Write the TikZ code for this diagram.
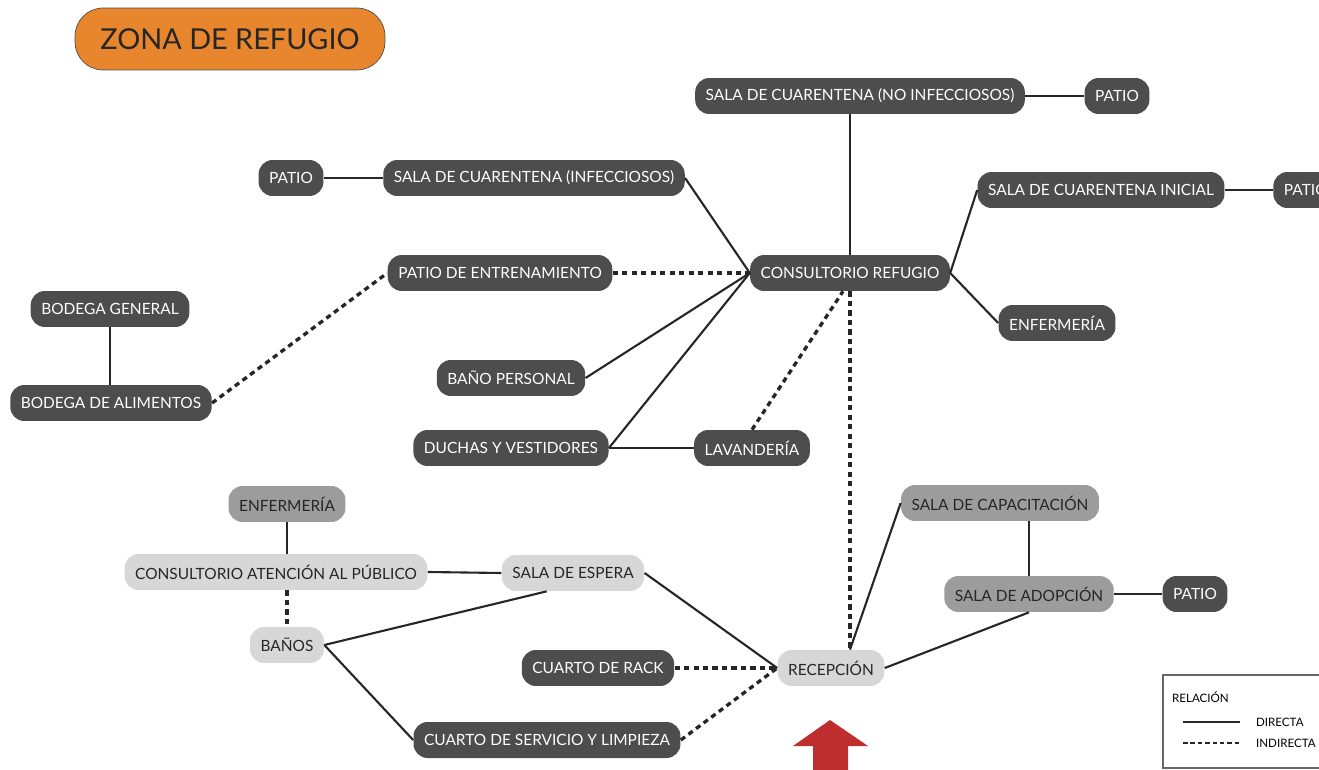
\documentclass[tikz,border=0pt]{standalone}
\usepackage{fontspec}
\setmainfont{Lato}
\definecolor{oscuro}{HTML}{4D4D4D}
\definecolor{medio}{HTML}{9C9C9C}
\definecolor{claro}{HTML}{D7D7D7}
\definecolor{naranja}{HTML}{E8862E}
\definecolor{rojo}{HTML}{BE2E2E}
\begin{document}
\begin{tikzpicture}[x=0.02cm,y=-0.02cm,
	every node/.style={font=\fontsize{8.8pt}{10pt}\selectfont},
	zona/.style={rounded corners=8pt,minimum height=0.72cm,inner xsep=6pt,inner ysep=2pt},
	zoscura/.style={zona,fill=oscuro,text=white},
	zmedia/.style={zona,fill=medio,text=black!85},
	zclara/.style={zona,fill=claro,text=black!85},
	directa/.style={line width=1.2pt,black!85},
	indirecta/.style={line width=1.9pt,black!85,dash pattern=on 3pt off 2.4pt},
	leyenda/.style={anchor=west,inner xsep=1pt,font=\fontsize{6.6pt}{8pt}\selectfont}]
	\clip (0,0) rectangle (1319,770);
	\useasboundingbox (0,0) rectangle (1319,770);

	% titulo
	\node[draw=black!70,fill=naranja,rounded corners=16pt,minimum width=6.2cm,minimum height=1.24cm,
		font=\fontsize{16.4pt}{19pt}\selectfont,text=black!85] (titulo) at (230,39) {ZONA DE REFUGIO};

	% zona de cuarentena
	\node[zoscura] (salaNoInf) at (860,96) {SALA DE CUARENTENA (NO INFECCIOSOS)};
	\node[zoscura] (patioB) at (1117,96) {PATIO};
	\node[zoscura] (salaInf) at (534,178) {SALA DE CUARENTENA (INFECCIOSOS)};
	\node[zoscura] (patioA) at (291,178) {PATIO};
	\node[zoscura] (salaIni) at (1101,190) {SALA DE CUARENTENA INICIAL};
	\node[zoscura,anchor=west] (patioC) at (1273,190) {PATIO};
	\node[zoscura] (cons) at (850,273) {CONSULTORIO REFUGIO};
	\node[zoscura] (patioEnt) at (500,273) {PATIO DE ENTRENAMIENTO};
	\node[zoscura] (enfA) at (1057,323) {ENFERMERÍA};
	\node[zoscura] (bodGen) at (110,309) {BODEGA GENERAL};
	\node[zoscura] (bodAli) at (111,403) {BODEGA DE ALIMENTOS};
	\node[zoscura] (banoPer) at (511,378) {BAÑO PERSONAL};
	\node[zoscura] (duchas) at (511,448) {DUCHAS Y VESTIDORES};
	\node[zoscura] (lav) at (752,448) {LAVANDERÍA};

	% zona publica
	\node[zmedia] (enfB) at (287,504) {ENFERMERÍA};
	\node[zclara] (consAt) at (276,572) {CONSULTORIO ATENCIÓN AL PÚBLICO};
	\node[zclara] (espera) at (573,573) {SALA DE ESPERA};
	\node[zclara] (banos) at (287,645) {BAÑOS};
	\node[zmedia] (capac) at (1000,503) {SALA DE CAPACITACIÓN};
	\node[zmedia] (adop) at (1029,594) {SALA DE ADOPCIÓN};
	\node[zoscura] (patioD) at (1195,594) {PATIO};
	\node[zoscura] (rack) at (598,668) {CUARTO DE RACK};
	\node[zclara] (recep) at (831,668) {RECEPCIÓN};
	\node[zoscura] (servicio) at (547,740) {CUARTO DE SERVICIO Y LIMPIEZA};

	% relaciones directas
	\draw[directa] (salaNoInf.east) -- (patioB.west);
	\draw[directa] (cons.north |- salaNoInf.south) -- (cons.north);
	\draw[directa] (patioA.east) -- (salaInf.west);
	\draw[directa] (salaInf.east) -- (cons.west);
	\draw[directa] (cons.east) -- (salaIni.west);
	\draw[directa] (salaIni.east) -- (patioC.west);
	\draw[directa] (cons.east) -- (enfA.west);
	\draw[directa] (bodGen.south) -- (bodGen.south |- bodAli.north);
	\draw[directa] (banoPer.east) -- (cons.west);
	\draw[directa] (duchas.east) -- (cons.west);
	\draw[directa] (duchas.east) -- (lav.west);
	\draw[directa] (enfB.south) -- (enfB.south |- consAt.north);
	\draw[directa] (consAt.east) -- (espera.west);
	\draw[directa] (banos.east) -- ([xshift=-15pt]espera.south);
	\draw[directa] (banos.east) -- (servicio.west);
	\draw[directa] (espera.east) -- (recep.west);
	\draw[directa] (cons.south |- recep.north) -- (capac.west);
	\draw[directa] (recep.east) -- (adop.south);
	\draw[directa] (adop.north |- capac.south) -- (adop.north);
	\draw[directa] (adop.east) -- (patioD.west);

	% relaciones indirectas
	\draw[indirecta] (patioEnt.east) -- (cons.west);
	\draw[indirecta] (bodAli.east) -- (patioEnt.west);
	\draw[indirecta] (lav.north) -- ([xshift=-4pt]cons.south);
	\draw[indirecta] (cons.south) -- (cons.south |- recep.north);
	\draw[indirecta] (consAt.south -| banos.north) -- (banos.north);
	\draw[indirecta] (rack.east) -- (recep.west);
	\draw[indirecta] (servicio.east) -- (recep.west);

	% acceso
	\fill[rojo] (830,720) -- (868,746) -- (848,746) -- (848,775) -- (813,775) -- (813,746) -- (793,746) -- cycle;

	% leyenda
	\draw[black!60,line width=0.6pt] (1163,675) rectangle (1345,768);
	\node[leyenda] (rel) at (1170,697) {RELACIÓN};
	\coordinate (d1) at (1183,722);
	\coordinate (d2) at (1240,722);
	\coordinate (i1) at (1183,743);
	\coordinate (i2) at (1240,743);
	\draw[directa,line width=1pt] (d1) -- (d2);
	\draw[indirecta,line width=1.7pt,dash pattern=on 2.6pt off 1.6pt] (i1) -- (i2);
	\node[leyenda] (dir) at (1254,722) {DIRECTA};
	\node[leyenda] (ind) at (1254,743) {INDIRECTA};
\end{tikzpicture}
\end{document}
